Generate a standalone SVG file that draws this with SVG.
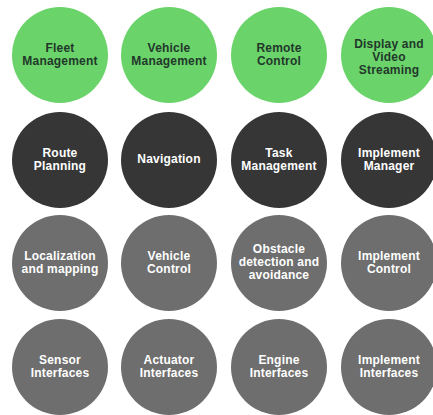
<svg xmlns="http://www.w3.org/2000/svg" width="433" height="415" viewBox="0 0 433 415">
<style>
.g{fill:#6ad36a}
.d{fill:#363636}
.m{fill:#6e6e6e}
text{font-family:"Liberation Sans",Arial,sans-serif;font-weight:bold;font-size:12px;text-anchor:middle;letter-spacing:0.2px}
.tg{fill:#22382a}
.tw{fill:#ffffff}
</style>
<rect width="433" height="415" fill="#ffffff"/>
<g id="fleet"><circle class="g" cx="60" cy="55" r="48"/><text class="tg" x="60" y="52">Fleet</text><text class="tg" x="60" y="65">Management</text></g>
<g id="vehicle-mgmt"><circle class="g" cx="169" cy="55" r="48"/><text class="tg" x="169" y="52">Vehicle</text><text class="tg" x="169" y="65">Management</text></g>
<g id="remote"><circle class="g" cx="279" cy="55" r="48"/><text class="tg" x="279" y="52">Remote</text><text class="tg" x="279" y="65">Control</text></g>
<g id="display"><circle class="g" cx="389" cy="55" r="48"/><text class="tg" x="389" y="48">Display and</text><text class="tg" x="389" y="61">Video</text><text class="tg" x="389" y="74">Streaming</text></g>

<g id="route"><circle class="d" cx="60" cy="160" r="48"/><text class="tw" x="60" y="157">Route</text><text class="tw" x="60" y="170">Planning</text></g>
<g id="navigation"><circle class="d" cx="169" cy="160" r="48"/><text class="tw" x="169" y="163">Navigation</text></g>
<g id="task"><circle class="d" cx="279" cy="160" r="48"/><text class="tw" x="279" y="157">Task</text><text class="tw" x="279" y="170">Management</text></g>
<g id="impl-mgr"><circle class="d" cx="389" cy="160" r="48"/><text class="tw" x="389" y="157">Implement</text><text class="tw" x="389" y="170">Manager</text></g>

<g id="localization"><circle class="m" cx="60" cy="263" r="48"/><text class="tw" x="60" y="260">Localization</text><text class="tw" x="60" y="273">and mapping</text></g>
<g id="vehicle-ctrl"><circle class="m" cx="169" cy="263" r="48"/><text class="tw" x="169" y="260">Vehicle</text><text class="tw" x="169" y="273">Control</text></g>
<g id="obstacle"><circle class="m" cx="279" cy="263" r="48"/><text class="tw" x="279" y="253">Obstacle</text><text class="tw" x="279" y="266">detection and</text><text class="tw" x="279" y="279">avoidance</text></g>
<g id="impl-ctrl"><circle class="m" cx="389" cy="263" r="48"/><text class="tw" x="389" y="260">Implement</text><text class="tw" x="389" y="273">Control</text></g>

<g id="sensor"><circle class="m" cx="60" cy="367" r="48"/><text class="tw" x="60" y="364">Sensor</text><text class="tw" x="60" y="377">Interfaces</text></g>
<g id="actuator"><circle class="m" cx="169" cy="367" r="48"/><text class="tw" x="169" y="364">Actuator</text><text class="tw" x="169" y="377">Interfaces</text></g>
<g id="engine"><circle class="m" cx="279" cy="367" r="48"/><text class="tw" x="279" y="364">Engine</text><text class="tw" x="279" y="377">Interfaces</text></g>
<g id="impl-if"><circle class="m" cx="389" cy="367" r="48"/><text class="tw" x="389" y="364">Implement</text><text class="tw" x="389" y="377">Interfaces</text></g>
<g id="connectors"></g>
</svg>
